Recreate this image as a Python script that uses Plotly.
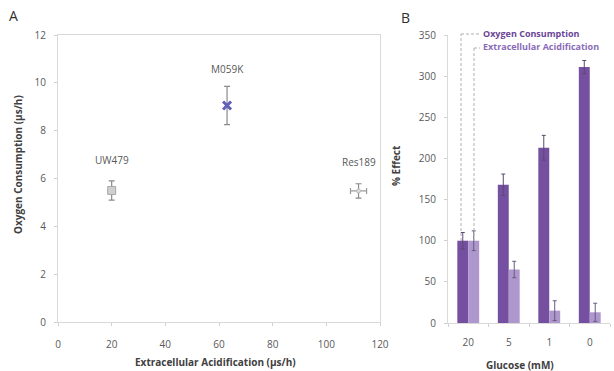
import plotly.graph_objects as go

# ---- Panel A data ----
cell_lines = ["UW479", "M059K", "Res189"]
ecar = [20, 63, 112]
ecar_err = [0, 0, 3]
ocr = [5.5, 9.05, 5.48]
ocr_err = [0.4, 0.8, 0.3]

# ---- Panel B data ----
glucose = ["20", "5", "1", "0"]
oxygen_effect = [100, 168, 213, 311]
oxygen_err = [10, 13, 15, 8]
acid_effect = [100, 65, 15, 13]
acid_err = [12, 10, 12, 11]

FONT = "Open Sans"
TICKC = "#595959"
TITLEC = "#404040"
DARK = "#7650a0"
LIGHT = "#ae97cc"

fig = go.Figure()

# Panel A points
marker_syms = ["square", "x-thin", "circle"]
marker_cols = ["#cfcfcf", "#6f6fc0", "#dcdcdc"]
marker_line = ["#a8a8a8", "#6060b8", "#b8b8b8"]
marker_lw = [1, 3, 1]
marker_size = [8, 8, 4]
for i, name in enumerate(cell_lines):
    fig.add_trace(go.Scatter(
        x=[ecar[i]], y=[ocr[i]], mode="markers", xaxis="x", yaxis="y",
        marker=dict(symbol=marker_syms[i], color=marker_cols[i], size=marker_size[i],
                    line=dict(color=marker_line[i], width=marker_lw[i])),
        error_y=dict(type="data", array=[ocr_err[i]], color="#8a8a8a", thickness=1.2, width=3),
        error_x=dict(type="data", array=[ecar_err[i]], color="#9a9a9a", thickness=1.2, width=3,
                     visible=ecar_err[i] > 0),
        showlegend=False, hoverinfo="skip"))

label_shift = [21, 28, 20]
for i, name in enumerate(cell_lines):
    fig.add_annotation(x=ecar[i], y=ocr[i], xref="x", yref="y", text=name, showarrow=False,
                       yanchor="bottom", yshift=label_shift[i],
                       font=dict(family=FONT, size=10, color=TICKC))

# Panel B bars
fig.add_trace(go.Bar(x=glucose, y=oxygen_effect, xaxis="x2", yaxis="y2", name="Oxygen Consumption",
                     marker=dict(color=DARK, line=dict(width=0)),
                     error_y=dict(type="data", array=oxygen_err, color="#5a4a70", thickness=1, width=2),
                     showlegend=False))
fig.add_trace(go.Bar(x=glucose, y=acid_effect, xaxis="x2", yaxis="y2", name="Extracellular Acidification",
                     marker=dict(color=LIGHT, line=dict(width=0)),
                     error_y=dict(type="data", array=acid_err, color="#6a5a80", thickness=1, width=2),
                     showlegend=False))

W, H = 614, 371
def px(x):
    return x / W
def py(y):
    return 1 - y / H

axis_common = dict(showgrid=False, zeroline=False, ticks="outside", ticklen=3, automargin=False,
                   tickcolor="#d0d0d0", linecolor="#d9d9d9", linewidth=1,
                   tickfont=dict(family=FONT, size=10, color=TICKC))

fig.update_layout(
    width=W, height=H, margin=dict(l=0, r=0, t=0, b=0),
    paper_bgcolor="white", plot_bgcolor="white",
    barmode="group", bargap=0.46, bargroupgap=0,
    xaxis=dict(domain=[px(58), px(380)], range=[0, 120], dtick=20, anchor="y",
               mirror=True, ticklabelstandoff=10, **axis_common),
    yaxis=dict(domain=[py(322), py(35)], range=[0, 12], dtick=2, anchor="x",
               mirror=True, ticklabelstandoff=6, **axis_common),
    xaxis2=dict(domain=[px(448), px(610)], anchor="y2", tickson="boundaries",
                ticklabelstandoff=10, **axis_common),
    yaxis2=dict(domain=[py(323), py(35)], range=[0, 350], dtick=50, anchor="x2",
                ticklabelstandoff=6, **axis_common),
)

# Axis titles and panel letters
def ann(text, x, y, size=10, angle=0, color=TITLEC, bold=True, xanchor="center"):
    fig.add_annotation(x=px(x), y=py(y), xref="paper", yref="paper", text=f"<b>{text}</b>" if bold else text,
                       showarrow=False, textangle=angle, xanchor=xanchor, yanchor="middle",
                       font=dict(family=FONT, size=size, color=color))

ann("Oxygen Consumption (µs/h)", 18, 165, angle=-90)
ann("Extracellular Acidification (µs/h)", 215, 362)
ann("% Effect", 396, 165, angle=-90)
ann("Glucose (mM)", 520, 365)
ann("A", 13, 16, size=14, color="#303030", bold=False)
ann("B", 405, 18, size=14, color="#303030", bold=False)

# Legend leader lines and labels
leader = dict(color="#b0b0b0", width=1, dash="3px,2px")
leader_paths = [
    [(461, 241), (461, 34), (480, 34)],
    [(474, 241), (474, 48), (480, 48)],
]
for pts in leader_paths:
    for (x0, y0), (x1, y1) in zip(pts[:-1], pts[1:]):
        fig.add_shape(type="line", xref="paper", yref="paper", layer="above",
                      x0=px(x0), x1=px(x1), y0=py(y0), y1=py(y1), line=leader)
ann("Oxygen Consumption", 481, 33, size=9, color="#6a4596", xanchor="left")
ann("Extracellular Acidification", 481, 47, size=9, color="#8a6bb8", xanchor="left")

fig.write_html("out.html")
